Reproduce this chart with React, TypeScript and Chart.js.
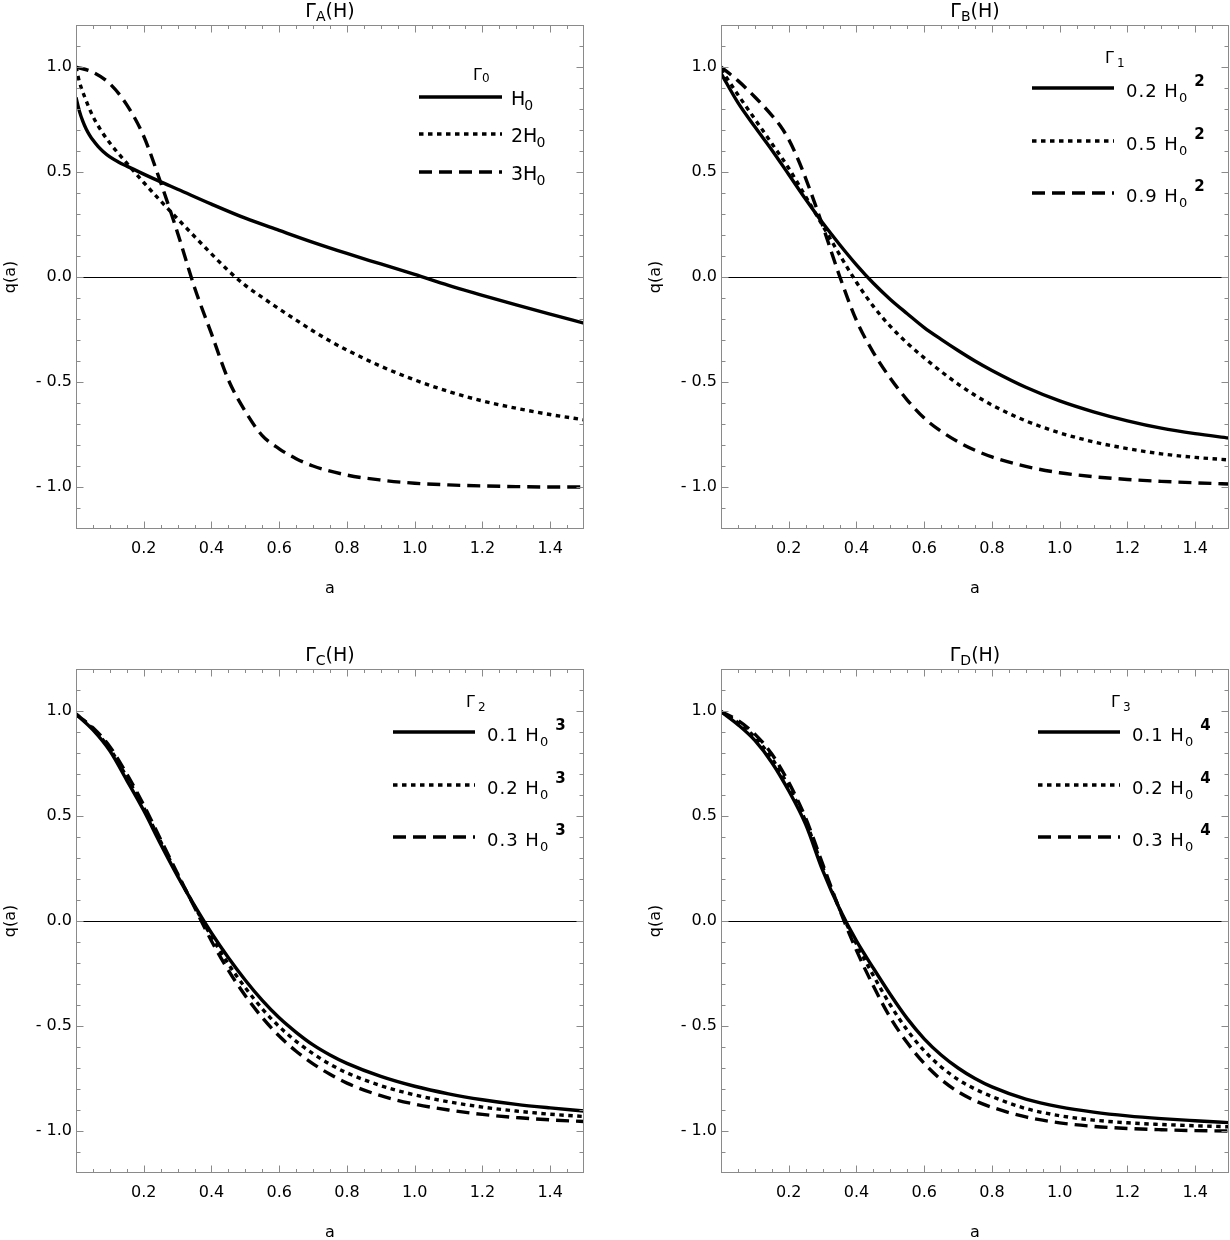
import React, { useEffect, useRef } from "react";
import { Chart, registerables } from "chart.js";
Chart.register(...registerables);

const FONT = "'DejaVu Sans', sans-serif";

// ---------- data ----------
// Panel A : Γ_A(H), Γ0 = H0, 2H0, 3H0
const A_X_SOLID = [0, 0.01, 0.02, 0.03, 0.04, 0.05, 0.065, 0.08, 0.1, 0.125, 0.15, 0.2, 0.25, 0.3, 0.4, 0.5, 0.6, 0.7, 0.8, 0.9, 1.0, 1.1, 1.2, 1.3, 1.4, 1.5];
const A_Q_SOLID = [0.855, 0.79, 0.742, 0.705, 0.676, 0.652, 0.622, 0.598, 0.572, 0.548, 0.528, 0.49, 0.453, 0.418, 0.347, 0.28, 0.222, 0.165, 0.112, 0.062, 0.012, -0.04, -0.087, -0.133, -0.177, -0.22];
const A_X_DOTTED = [0, 0.01, 0.025, 0.05, 0.075, 0.1, 0.15, 0.2, 0.25, 0.3, 0.35, 0.4, 0.45, 0.5, 0.55, 0.6, 0.65, 0.7, 0.75, 0.8, 0.9, 1.0, 1.1, 1.2, 1.3, 1.4, 1.5];
const A_Q_DOTTED = [1.0, 0.93, 0.86, 0.765, 0.695, 0.638, 0.542, 0.45, 0.362, 0.277, 0.193, 0.11, 0.03, -0.04, -0.097, -0.152, -0.205, -0.257, -0.305, -0.348, -0.425, -0.49, -0.545, -0.59, -0.625, -0.655, -0.68];
const A_X_DASHED = [0, 0.05, 0.1, 0.15, 0.2, 0.25, 0.3, 0.35, 0.4, 0.45, 0.5, 0.55, 0.6, 0.65, 0.7, 0.8, 0.9, 1.0, 1.1, 1.2, 1.3, 1.4, 1.5];
const A_Q_DASHED = [1.0, 0.975, 0.92, 0.82, 0.67, 0.45, 0.21, -0.05, -0.27, -0.49, -0.64, -0.755, -0.818, -0.865, -0.9, -0.943, -0.967, -0.982, -0.99, -0.995, -0.998, -1.0, -1.0];

// Panels B, C, D share one grid of a
const GRID_X = [0, 0.05, 0.1, 0.15, 0.2, 0.25, 0.3, 0.35, 0.4, 0.45, 0.5, 0.55, 0.6, 0.65, 0.7, 0.75, 0.8, 0.9, 1.0, 1.1, 1.2, 1.3, 1.4, 1.5];

const B_Q_SOLID = [0.97, 0.83, 0.715, 0.605, 0.488, 0.37, 0.258, 0.155, 0.058, -0.03, -0.107, -0.175, -0.241, -0.297, -0.35, -0.4, -0.445, -0.525, -0.59, -0.642, -0.685, -0.72, -0.746, -0.767];
const B_Q_DOTTED = [0.99, 0.868, 0.752, 0.636, 0.518, 0.383, 0.245, 0.107, -0.025, -0.14, -0.235, -0.315, -0.385, -0.45, -0.51, -0.563, -0.61, -0.685, -0.742, -0.785, -0.817, -0.842, -0.859, -0.871];
const B_X_DASHED = [0, 0.05, 0.1, 0.15, 0.175, 0.2, 0.225, 0.25, 0.275, 0.3, 0.35, 0.4, 0.45, 0.5, 0.55, 0.6, 0.65, 0.7, 0.75, 0.8, 0.9, 1.0, 1.1, 1.2, 1.3, 1.4, 1.5];
const B_Q_DASHED = [1.0, 0.935, 0.857, 0.77, 0.72, 0.655, 0.57, 0.47, 0.36, 0.245, 0.005, -0.207, -0.36, -0.482, -0.586, -0.672, -0.735, -0.785, -0.825, -0.857, -0.902, -0.932, -0.951, -0.964, -0.973, -0.98, -0.986];

const C_Q_SOLID = [0.985, 0.91, 0.81, 0.67, 0.526, 0.366, 0.214, 0.073, -0.057, -0.175, -0.282, -0.378, -0.461, -0.53, -0.59, -0.638, -0.678, -0.74, -0.787, -0.823, -0.851, -0.873, -0.89, -0.905];
const C_Q_DOTTED = [0.985, 0.915, 0.82, 0.685, 0.54, 0.378, 0.22, 0.07, -0.075, -0.205, -0.318, -0.418, -0.503, -0.573, -0.632, -0.682, -0.723, -0.784, -0.828, -0.861, -0.886, -0.905, -0.92, -0.931];
const C_Q_DASHED = [0.985, 0.92, 0.83, 0.7, 0.552, 0.388, 0.225, 0.065, -0.095, -0.235, -0.356, -0.46, -0.548, -0.62, -0.68, -0.73, -0.772, -0.832, -0.872, -0.9, -0.921, -0.936, -0.947, -0.955];

const D_Q_SOLID = [0.997, 0.935, 0.86, 0.755, 0.62, 0.46, 0.242, 0.058, -0.095, -0.225, -0.35, -0.465, -0.561, -0.638, -0.7, -0.75, -0.79, -0.848, -0.885, -0.91, -0.928, -0.941, -0.951, -0.96];
const D_Q_DOTTED = [0.997, 0.945, 0.875, 0.775, 0.64, 0.475, 0.258, 0.058, -0.11, -0.26, -0.4, -0.52, -0.618, -0.695, -0.755, -0.8, -0.836, -0.893, -0.927, -0.948, -0.961, -0.969, -0.975, -0.98];
const D_Q_DASHED = [0.997, 0.955, 0.89, 0.795, 0.66, 0.49, 0.272, 0.055, -0.14, -0.31, -0.46, -0.58, -0.678, -0.755, -0.813, -0.856, -0.887, -0.933, -0.961, -0.978, -0.988, -0.994, -0.998, -1.0];

// ticks and labels
const X_TICKS = [0.2, 0.4, 0.6, 0.8, 1.0, 1.2, 1.4];
const Y_TICKS = [-1.0, -0.5, 0.0, 0.5, 1.0];
const X_RANGE = [0, 1.5];
const Y_RANGE = [-1.2, 1.2];

const TITLE_SUBS = ["A", "B", "C", "D"];
const HEADER_SUBS = ["0", "1", "2", "3"];
const A_LEGEND = ["H", "2H", "3H"];
const B_LEGEND = ["0.2", "0.5", "0.9"];
const C_LEGEND = ["0.1", "0.2", "0.3"];
const D_LEGEND = ["0.1", "0.2", "0.3"];
const POWERS = ["", "2", "3", "4"];

const DASHES: number[][] = [[], [4.5, 4.5], [13, 7]];
const LINE_W = 3.4;

// ---------- drawing helpers ----------
type Seg = { t: string; size: number; dy?: number; dx?: number; bold?: boolean; ls?: number };

function setFont(ctx: any, s: Seg) {
  ctx.font = `${s.bold ? "bold " : ""}${s.size}px ${FONT}`;
  try {
    ctx.letterSpacing = `${s.ls || 0}px`;
  } catch (e) {}
}

function richWidth(ctx: CanvasRenderingContext2D, segs: Seg[]) {
  let w = 0;
  for (const s of segs) {
    setFont(ctx, s);
    w += (s.dx || 0) + ctx.measureText(s.t).width;
  }
  setFont(ctx, { t: "", size: 16 });
  return w;
}

function rich(ctx: CanvasRenderingContext2D, x: number, base: number, segs: Seg[]) {
  let cx = x;
  ctx.textAlign = "left";
  ctx.textBaseline = "alphabetic";
  for (const s of segs) {
    setFont(ctx, s);
    cx += s.dx || 0;
    ctx.fillText(s.t, cx, base + (s.dy || 0));
    cx += ctx.measureText(s.t).width;
  }
  setFont(ctx, { t: "", size: 16 });
}

type PanelCfg = {
  idx: number;
  series: { x: number[]; y: number[] }[];
  legend: string[];
};

function makeDecor(cfg: PanelCfg) {
  return {
    id: "decor",
    beforeDatasetsDraw(chart: any) {
      const { ctx, chartArea: ca, scales } = chart;
      const y0 = Math.round(scales.y.getPixelForValue(0)) + 0.5;
      ctx.save();
      ctx.strokeStyle = "#000";
      ctx.lineWidth = 1;
      ctx.beginPath();
      ctx.moveTo(ca.left, y0);
      ctx.lineTo(ca.right, y0);
      ctx.stroke();
      ctx.restore();
    },
    afterDraw(chart: any) {
      const { ctx, chartArea: ca, scales } = chart;
      const xs = scales.x;
      const ys = scales.y;
      ctx.save();
      // frame
      ctx.strokeStyle = "#8a8a8a";
      ctx.lineWidth = 1;
      ctx.strokeRect(ca.left + 0.5, ca.top + 0.5, ca.right - ca.left - 1, ca.bottom - ca.top - 1);
      // x ticks (bottom & top, inward)
      ctx.beginPath();
      for (let i = 1; i < 30; i++) {
        const v = i * 0.05;
        const major = X_TICKS.some((t) => Math.abs(t - v) < 1e-6);
        const len = major ? 7.5 : 4;
        const px = Math.round(xs.getPixelForValue(v)) + 0.5;
        ctx.moveTo(px, ca.bottom);
        ctx.lineTo(px, ca.bottom - len);
        ctx.moveTo(px, ca.top);
        ctx.lineTo(px, ca.top + len);
      }
      // y ticks (left & right, inward)
      for (let i = -11; i <= 11; i++) {
        const v = i * 0.1;
        const major = Y_TICKS.some((t) => Math.abs(t - v) < 1e-6);
        const len = major ? 7.5 : 4.5;
        const py = Math.round(ys.getPixelForValue(v)) + 0.5;
        ctx.moveTo(ca.left, py);
        ctx.lineTo(ca.left + len, py);
        ctx.moveTo(ca.right, py);
        ctx.lineTo(ca.right - len, py);
      }
      ctx.stroke();

      ctx.fillStyle = "#000";
      const cx = (ca.left + ca.right) / 2;
      // title
      const tsegs: Seg[] = [
        { t: "Γ", size: 19 },
        { t: TITLE_SUBS[cfg.idx], size: 14, dy: 4 },
        { t: "(H)", size: 19 },
      ];
      const tw = richWidth(ctx, tsegs);
      rich(ctx, cx - tw / 2, 17, tsegs);
      // x-axis title
      ctx.font = `16px ${FONT}`;
      ctx.textAlign = "center";
      ctx.textBaseline = "alphabetic";
      ctx.fillText("a", cx, 593);
      // y-axis title
      ctx.save();
      ctx.translate(15, (ca.top + ca.bottom) / 2);
      ctx.rotate(-Math.PI / 2);
      ctx.font = `16px ${FONT}`;
      ctx.textAlign = "center";
      ctx.fillText("q(a)", 0, 0);
      ctx.restore();

      // legend
      const isA = cfg.idx === 0;
      const shift = cfg.idx === 1 ? -6 : 0;
      const rows = isA ? [97, 134, 172] : [88, 141, 193];
      const x1 = isA ? 419 : 393 + shift;
      const x2 = isA ? 502 : 475 + shift;
      const tx = isA ? 511 : 487 + shift;
      if (isA) {
        rich(ctx, 473, 80, [
          { t: "Γ", size: 16 },
          { t: HEADER_SUBS[cfg.idx], size: 12, dy: 2 },
        ]);
      } else {
        rich(ctx, 466 + shift, 63, [
          { t: "Γ", size: 16 },
          { t: HEADER_SUBS[cfg.idx], size: 12, dy: 4, dx: 3 },
        ]);
      }
      for (let r = 0; r < 3; r++) {
        const L = rows[r];
        ctx.save();
        ctx.strokeStyle = "#000";
        ctx.lineWidth = LINE_W;
        ctx.setLineDash(DASHES[r]);
        ctx.beginPath();
        ctx.moveTo(x1, L);
        ctx.lineTo(x2, L);
        ctx.stroke();
        ctx.restore();
        if (isA) {
          rich(ctx, tx, L + 8, [
            { t: cfg.legend[r], size: 19 },
            { t: "0", size: 14, dy: 5, dx: -1 },
          ]);
        } else {
          rich(ctx, tx, L + 9, [
            { t: cfg.legend[r] + " H", size: 18, ls: 1 },
            { t: "0", size: 13, dy: 5, dx: 0 },
            { t: POWERS[cfg.idx], size: 15, bold: true, dy: -11, dx: 7 },
          ]);
        }
      }
      ctx.restore();
    },
  };
}

const PANELS: PanelCfg[] = [
  {
    idx: 0,
    series: [
      { x: A_X_SOLID, y: A_Q_SOLID },
      { x: A_X_DOTTED, y: A_Q_DOTTED },
      { x: A_X_DASHED, y: A_Q_DASHED },
    ],
    legend: A_LEGEND,
  },
  {
    idx: 1,
    series: [
      { x: GRID_X, y: B_Q_SOLID },
      { x: GRID_X, y: B_Q_DOTTED },
      { x: B_X_DASHED, y: B_Q_DASHED },
    ],
    legend: B_LEGEND,
  },
  {
    idx: 2,
    series: [
      { x: GRID_X, y: C_Q_SOLID },
      { x: GRID_X, y: C_Q_DOTTED },
      { x: GRID_X, y: C_Q_DASHED },
    ],
    legend: C_LEGEND,
  },
  {
    idx: 3,
    series: [
      { x: GRID_X, y: D_Q_SOLID },
      { x: GRID_X, y: D_Q_DOTTED },
      { x: GRID_X, y: D_Q_DASHED },
    ],
    legend: D_LEGEND,
  },
];

const W = 645;
const H = 644;

function Panel({ cfg, left, top }: { cfg: PanelCfg; left: number; top: number }) {
  const ref = useRef<HTMLCanvasElement>(null);
  useEffect(() => {
    const canvas = ref.current!;
    const chart = new Chart(canvas, {
      type: "line",
      data: {
        datasets: cfg.series.map((s, i) => ({
          data: s.x.map((x, j) => ({ x, y: s.y[j] })),
          borderColor: "#000",
          borderWidth: LINE_W,
          borderDash: DASHES[i],
          pointRadius: 0,
          fill: false,
          cubicInterpolationMode: "monotone" as const,
        })),
      },
      options: {
        responsive: false,
        animation: false,
        devicePixelRatio: 1,
        events: [],
        layout: { padding: { left: 0, top: 25, right: W - 584, bottom: 0 } },
        plugins: {
          legend: { display: false },
          tooltip: { enabled: false },
          title: { display: false },
        },
        scales: {
          x: {
            type: "linear",
            min: X_RANGE[0],
            max: X_RANGE[1],
            grid: { display: false, drawTicks: false },
            border: { display: false },
            afterBuildTicks: (s: any) => {
              s.ticks = X_TICKS.map((v) => ({ value: v }));
            },
            afterFit: (s: any) => {
              s.height = H - 529;
            },
            ticks: {
              padding: 10,
              autoSkip: false,
              maxRotation: 0,
              color: "#000",
              font: { family: FONT, size: 16 },
              callback: (v: any) => Number(v).toFixed(1),
            },
          },
          y: {
            type: "linear",
            min: Y_RANGE[0],
            max: Y_RANGE[1],
            grid: { display: false, drawTicks: false },
            border: { display: false },
            afterBuildTicks: (s: any) => {
              s.ticks = Y_TICKS.map((v) => ({ value: v }));
            },
            afterFit: (s: any) => {
              s.width = 76;
            },
            ticks: {
              padding: 4,
              autoSkip: false,
              color: "#000",
              font: { family: FONT, size: 16 },
              callback: (v: any) => {
                const n = Number(v);
                return n < 0 ? "- " + Math.abs(n).toFixed(1) : n.toFixed(1);
              },
            },
          },
        },
      },
      plugins: [makeDecor(cfg)],
    } as any);
    return () => chart.destroy();
  }, [cfg]);
  return (
    <canvas
      ref={ref}
      width={W}
      height={H}
      style={{ position: "absolute", left, top, width: W, height: H }}
    />
  );
}

export default function App() {
  return (
    <div
      style={{
        position: "absolute",
        left: 0,
        top: 0,
        width: 1230,
        height: 1240,
        overflow: "hidden",
        background: "#fff",
      }}
    >
      <Panel cfg={PANELS[0]} left={0} top={0} />
      <Panel cfg={PANELS[1]} left={W} top={0} />
      <Panel cfg={PANELS[2]} left={0} top={H} />
      <Panel cfg={PANELS[3]} left={W} top={H} />
    </div>
  );
}
